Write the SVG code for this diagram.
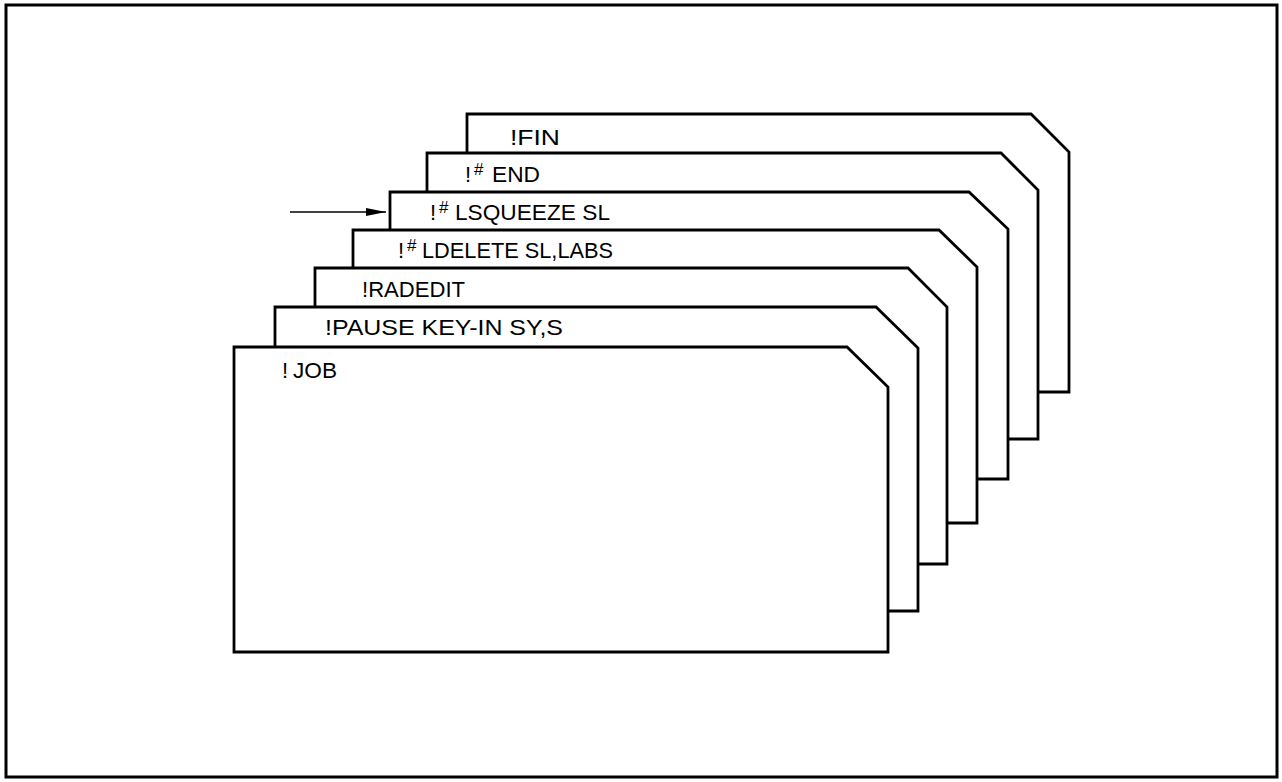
<svg xmlns="http://www.w3.org/2000/svg" width="1282" height="782" viewBox="0 0 1282 782">
<style>
.card{fill:#fff;stroke:#000;stroke-width:2.8;stroke-linejoin:miter}
.t{font-family:"Liberation Sans",Arial,sans-serif;font-size:22px;fill:#000}
.sup{font-family:"Liberation Sans",Arial,sans-serif;font-size:17px;fill:#000}
</style>
<defs>
<marker id="ah" markerWidth="20" markerHeight="10" refX="20" refY="5" orient="auto" markerUnits="userSpaceOnUse">
<path d="M0,1 L20,5 L0,9 Z" fill="#000"/>
</marker>
</defs>
<rect x="0" y="0" width="1282" height="782" fill="#fff"/>
<rect id="frame" x="6" y="5" width="1271" height="772" fill="none" stroke="#000" stroke-width="3"/>
<g id="card-fin">
<path class="card" d="M467,392 L467,114 L1031,114 L1069,152 L1069,392 Z"/>
<text class="t" x="510" y="145" textLength="50" lengthAdjust="spacingAndGlyphs">!FIN</text>
</g>
<g id="card-end">
<path class="card" d="M427,439 L427,153 L1001,153 L1038,190 L1038,439 Z"/>
<text class="t" x="465" y="182">!</text>
<text class="sup" x="474" y="175">#</text>
<text class="t" x="492" y="182" textLength="48" lengthAdjust="spacingAndGlyphs">END</text>
</g>
<g id="card-lsqueeze">
<path class="card" d="M390,479 L390,192 L969,192 L1008,229 L1008,479 Z"/>
<text class="t" x="430" y="220">!</text>
<text class="sup" x="439" y="213">#</text>
<text class="t" x="455" y="220" textLength="155" lengthAdjust="spacingAndGlyphs">LSQUEEZE SL</text>
</g>
<g id="card-ldelete">
<path class="card" d="M353,523 L353,230 L939,230 L977,267 L977,523 Z"/>
<text class="t" x="398" y="258">!</text>
<text class="sup" x="407" y="251">#</text>
<text class="t" x="422" y="258" textLength="191" lengthAdjust="spacingAndGlyphs">LDELETE SL,LABS</text>
</g>
<g id="card-radedit">
<path class="card" d="M315,564 L315,268 L908,268 L947,307 L947,564 Z"/>
<text class="t" x="362" y="297" textLength="103" lengthAdjust="spacingAndGlyphs">!RADEDIT</text>
</g>
<g id="card-pause">
<path class="card" d="M275,611 L275,307 L876,307 L918,348 L918,611 Z"/>
<text class="t" x="325" y="335" textLength="238" lengthAdjust="spacingAndGlyphs">!PAUSE KEY-IN SY,S</text>
</g>
<g id="card-job">
<path class="card" d="M234,652 L234,347 L847,347 L888,387 L888,652 Z"/>
<text class="t" x="282" y="378">!</text>
<text class="t" x="293" y="378" textLength="44" lengthAdjust="spacingAndGlyphs">JOB</text>
</g>
<g id="connectors">
<line x1="290" y1="212" x2="386" y2="212" stroke="#000" stroke-width="1.6" marker-end="url(#ah)"/>
</g>
</svg>
